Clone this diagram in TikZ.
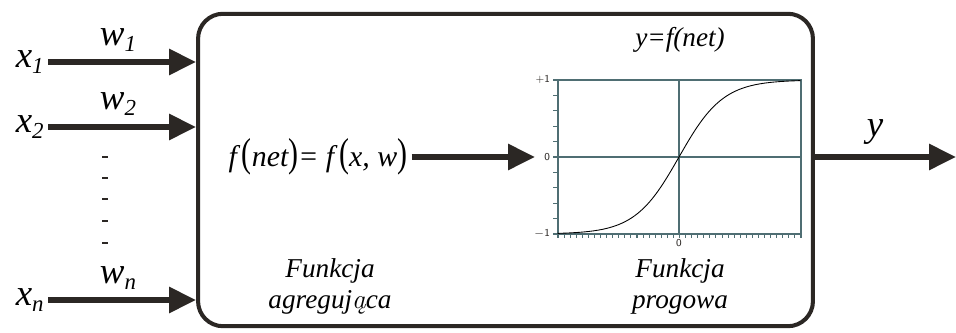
\documentclass[tikz,border=0pt]{standalone}
\usepackage{fontspec}
\newfontfamily\tms{Liberation Serif}
\usetikzlibrary{arrows.meta,positioning,calc}
\definecolor{darkline}{HTML}{2B2724}
\definecolor{axcol}{HTML}{4F6E73}
\newcommand{\lowidx}[1]{\raisebox{-0.4ex}{\scalebox{0.62}{#1}}}
\newcommand{\bigital}[1]{\scalebox{1.05}{\itshape #1}}
\newcommand{\labital}[1]{\scalebox{0.775}{\itshape #1}}
\newcommand{\tallpar}[1]{\scalebox{1}[1.35]{\upshape #1}}
\newcommand{\aogon}{{\fontfamily{lmr}\selectfont\itshape ą}}

\begin{document}
\begin{tikzpicture}[x=0.02cm, y=-0.02cm,
  inp/.style={font=\tms\fontsize{20}{24}\selectfont, inner sep=0pt},
  lab/.style={font=\tms\fontsize{20}{22.5}\selectfont, inner sep=0pt},
  sig/.style={-{Triangle[length=0.54cm,width=0.5cm]}, line width=3.4pt, draw=darkline},
  axis/.style={draw=axcol, line width=0.6pt},
  tick/.style={font=\sffamily\fontsize{6}{7}\selectfont, inner sep=1pt, text=darkline}
]
\useasboundingbox (0,0) rectangle (956,333);

\node[draw=darkline, line width=2.3pt, rounded corners=0.5cm,
      minimum width=12.3cm, minimum height=6.25cm] (neuron) at (505.5,170) {};

\node[inp, anchor=east] (x1) at (44,62) {\bigital{x\lowidx{1}}};
\node[inp, anchor=east] (x2) at (44,127) {\bigital{x\lowidx{2}}};
\node[inp, anchor=east] (xn) at (44,300) {\bigital{x\lowidx{n}}};
\node[inp] (w1) at (118,40) {\bigital{w\lowidx{1}}};
\node[inp] (w2) at (118,104) {\bigital{w\lowidx{2}}};
\node[inp] (wn) at (118,278) {\bigital{w\lowidx{n}}};
\draw[sig] (x1.east) ++(4,0) -- (x1.east -| neuron.west);
\draw[sig] (x2.east) ++(4,0) -- (x2.east -| neuron.west);
\draw[sig] (xn.east) ++(4,0) -- (xn.east -| neuron.west);
\foreach \y in {157,178,199,221,243}
  \draw[darkline, line width=1.2pt] (102,\y) -- (108,\y);

\node[inp] (fnet) at (318,157)
  {\scalebox{0.85}{\itshape f\,\tallpar{(}net\tallpar{)}= f\,\tallpar{(}x, w\tallpar{)}}};
\coordinate (pin) at (535,157);
\draw[sig] (fnet.east) ++(4,0) -- (pin);

% wykres funkcji progowej
\draw[axis] (558,80) rectangle (801,234);
\draw[axis] (558,157) -- (801,157);
\draw[axis] (679,80) -- (679,234);
\foreach \k in {0,...,10}
  \draw[axis] (553,{80+15.4*\k}) -- (558,{80+15.4*\k});
\foreach \k in {0,...,40}
  \draw[axis] ({558+6.075*\k},234) -- ({558+6.075*\k},238);
\draw[black, line width=0.5pt] plot[domain=-1:1, samples=80, smooth]
  ({679+121.5*\x},{157-77*tanh(2.75*\x)});
\node[tick, anchor=east] (p1) at (552,79) {+1};
\node[tick, anchor=east] (p0) at (552,157) {0};
\node[tick, anchor=east] (m1) at (552,234) {$-$1};
\node[tick] (z0) at (679,243) {0};

\node[lab] (yf) at (680,40) {\labital{y=f(net)}};
\node[lab] (prog) at (680,287) {\labital{\begin{tabular}{@{}c@{}}Funkcja\\progowa\end{tabular}}};
\node[lab] (agr) at (330,287) {\labital{\begin{tabular}{@{}c@{}}Funkcja\\agreguj\aogon ca\end{tabular}}};

\coordinate (out) at (956,157);
\draw[sig] (neuron.east |- out) -- (out);
\node[inp] (y) at (875,132) {\bigital{y}};
\end{tikzpicture}
\end{document}
